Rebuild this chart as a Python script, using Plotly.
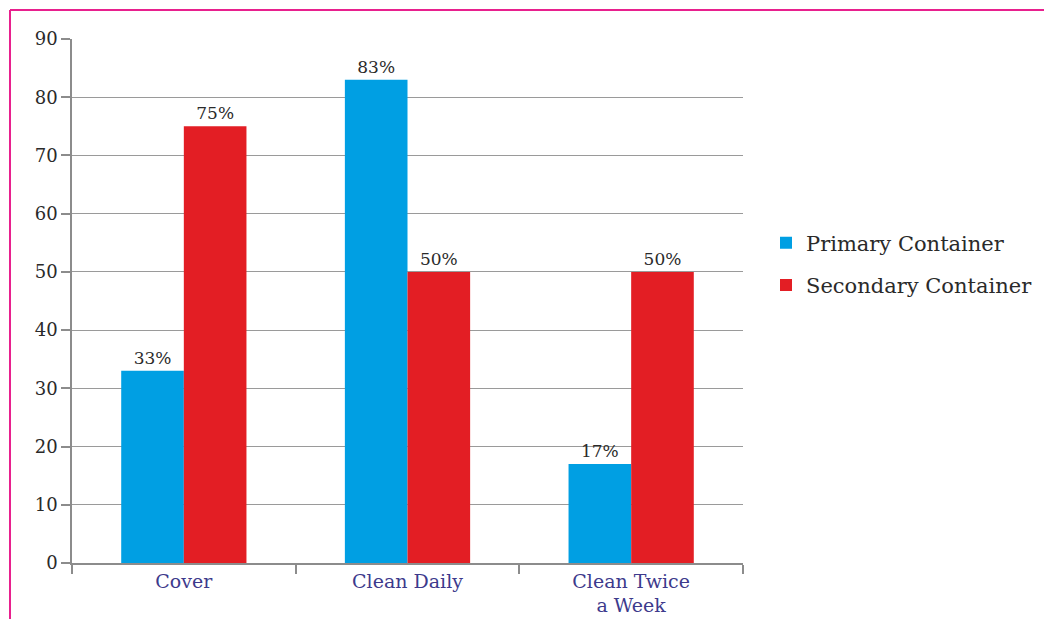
import plotly.graph_objects as go

categories = ["Cover", "Clean Daily", "Clean Twice<br>a Week"]
primary = [33, 83, 17]
secondary = [75, 50, 50]
series_names = ["Primary Container", "Secondary Container"]
colors = ["#009fe3", "#e31e24"]

W, H = 1044, 619
ml, mr, mt, mb = 72, 301, 39, 56
FONT = "DejaVu Serif, Century Schoolbook, serif"

fig = go.Figure()
for i, (name, vals) in enumerate(zip(series_names, [primary, secondary])):
    fig.add_trace(go.Bar(
        x=categories, y=vals, name=name, legendgroup=name,
        marker=dict(color=colors[i], line=dict(width=0)),
        text=[f"{v}%" for v in vals], textposition="outside",
        textfont=dict(family=FONT, size=17, color="#2a2a2a"),
        cliponaxis=False,
    ))

pw = W - ml - mr
ph = H - mt - mb
def px2x(p):
    return (p - ml) / pw
def py2y(p):
    return (H - mb - p) / ph

border = "#e8208e"
fig.update_layout(
    width=W, height=H,
    margin=dict(l=ml, r=mr, t=mt, b=mb, autoexpand=False),
    paper_bgcolor="white", plot_bgcolor="white",
    barmode="group", bargap=0.44, bargroupgap=0,
    font=dict(family=FONT, size=17, color="#2a2a2a"),
    showlegend=True,
    legend=dict(x=px2x(766), y=py2y(264), xanchor="left", yanchor="middle",
                font=dict(family=FONT, size=21, color="#2a2a2a"),
                tracegroupgap=12, bgcolor="rgba(0,0,0,0)"),
    xaxis=dict(type="category", showline=True, linecolor="#8c8c8c", linewidth=1.5,
               ticks="outside", tickson="boundaries", ticklen=9, tickcolor="#8c8c8c",
               tickwidth=1.5, showgrid=False,
               tickfont=dict(family=FONT, size=19, color="#3d3a8c")),
    yaxis=dict(range=[0, 90], dtick=10, showline=True, linecolor="#8c8c8c", linewidth=1.5,
               ticks="outside", ticklen=9, tickcolor="#8c8c8c", tickwidth=1.5,
               showgrid=True, gridcolor="#9a9a9a", gridwidth=1.2, zeroline=False,
               tickfont=dict(family=FONT, size=18, color="#2a2a2a")),
    shapes=[
        dict(type="line", xref="paper", yref="paper",
             x0=px2x(10), x1=px2x(W + 5), y0=py2y(10), y1=py2y(10),
             line=dict(color=border, width=2)),
        dict(type="line", xref="paper", yref="paper",
             x0=px2x(10), x1=px2x(10), y0=py2y(10), y1=py2y(H + 5),
             line=dict(color=border, width=2)),
    ],
)

fig.write_html("out.html")
